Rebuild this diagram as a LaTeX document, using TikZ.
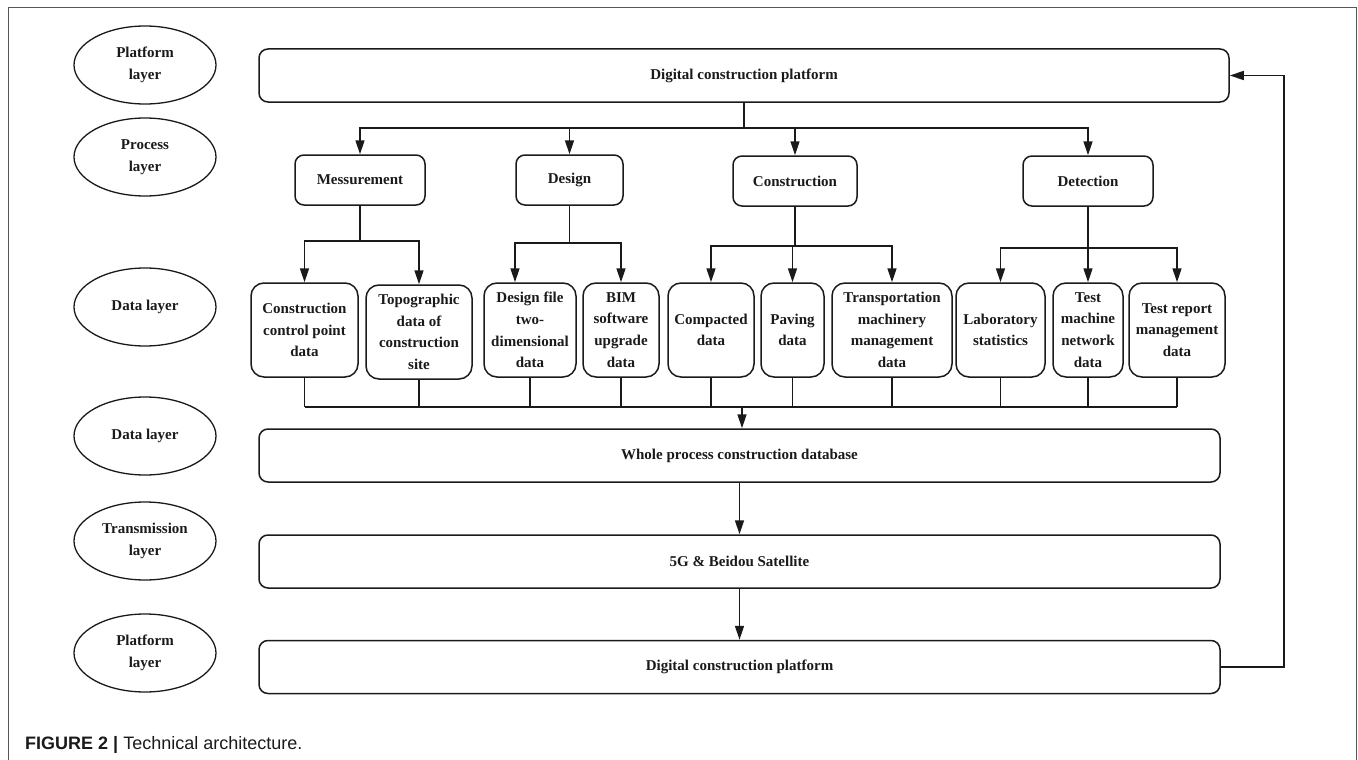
\documentclass[tikz,border=0pt]{standalone}
\usepackage{fontspec}
\setmainfont{Liberation Serif}
\newfontfamily\capfont{Liberation Sans}
\usetikzlibrary{arrows.meta,shapes.geometric}
\definecolor{ink}{HTML}{1A1A1A}
\definecolor{rim}{HTML}{555555}
\newcommand\lbl{\fontsize{15}{21.7}\selectfont\bfseries}

\begin{document}
\begin{tikzpicture}[
  x=1pt,y=-1pt,
  layer/.style={ellipse,draw=ink,line width=1.3pt,minimum width=142pt,minimum height=78pt,
                inner sep=0pt,align=center,font=\lbl,text=ink},
  bar/.style={draw=ink,line width=1.5pt,rounded corners=9pt,minimum width=961pt,
              minimum height=53pt,font=\lbl,text=ink},
  proc/.style={draw=ink,line width=1.5pt,rounded corners=9pt,minimum height=50pt,
               font=\lbl,text=ink},
  leaf/.style={draw=ink,line width=1.5pt,rounded corners=13pt,minimum height=94pt,
               align=center,inner sep=1pt,font=\lbl,text=ink},
  wire/.style={line width=1.5pt,draw=ink},
  arr/.style={-{Triangle[length=14pt,width=9pt]},line width=1.5pt,draw=ink}
]
\useasboundingbox (0,0) rectangle (1358,760);
\draw[rim,line width=1pt] (8,760) -- (8,8) -- (1356,8) -- (1356,760);

% layer labels
\node[layer] (l1) at (145,65) {Platform\\layer};
\node[layer] (l2) at (145,157) {Process\\layer};
\node[layer] (l3) at (145,307) {Data layer};
\node[layer] (l4) at (145,436) {Data layer};
\node[layer] (l5) at (145,541) {Transmission\\layer};
\node[layer] (l6) at (145,653) {Platform\\layer};

% wide bars
\node[bar,minimum width=970pt] (top) at (744,75.5) {Digital construction platform};
\node[bar] (db) at (739.5,455.5) {Whole process construction database};
\node[bar] (sat) at (739.5,561.5) {5G \& Beidou Satellite};
\node[bar] (plat) at (739.5,667) {Digital construction platform};

% process steps
\node[proc,minimum width=130pt] (mes) at (360,180) {Messurement};
\node[proc,minimum width=107pt] (des) at (569.5,180) {Design};
\node[proc,minimum width=124pt] (con) at (795,181) {Construction};
\node[proc,minimum width=130pt] (det) at (1088,181) {Detection};

% data items
\node[leaf,minimum width=107pt] (ccp) at (304.5,330) {Construction\\control point\\data};
\node[leaf,minimum width=106pt] (topo) at (419,332) {Topographic\\data of\\construction\\site};
\node[leaf,minimum width=92pt] (dfile) at (530,330) {Design file\\two-\\dimensional\\data};
\node[leaf,minimum width=76pt] (bim) at (621,330) {BIM\\software\\upgrade\\data};
\node[leaf,minimum width=86pt] (comp) at (711,330) {Compacted\\data};
\node[leaf,minimum width=63pt] (pave) at (792.5,330) {Paving\\data};
\node[leaf,minimum width=120pt] (trans) at (892,330) {Transportation\\machinery\\management\\data};
\node[leaf,minimum width=89pt] (lab) at (1000.5,330) {Laboratory\\statistics};
\node[leaf,minimum width=70pt] (tmn) at (1088,330) {Test\\machine\\network\\data};
\node[leaf,minimum width=96pt] (trep) at (1177,330) {Test report\\management\\data};

% platform to processes
\coordinate (split) at (744,128);
\draw[wire] (top.south) -- (split);
\foreach \p in {mes,des,con,det}
  \draw[arr] (split) -| (\p.north);

% processes to data
\coordinate (mesb) at (360,241);
\coordinate (desb) at (569.5,243);
\coordinate (conb) at (795,246);
\coordinate (detb) at (1088,248);
\draw[wire] (mes.south) -- (mesb);
\draw[wire] (des.south) -- (desb);
\draw[wire] (con.south) -- (conb);
\draw[wire] (det.south) -- (detb);
\draw[arr] (mesb) -| (ccp.north);
\draw[arr] (mesb) -| (topo.north);
\draw[arr] (desb) -| ([xshift=-15pt]dfile.north);
\draw[arr] (desb) -| (bim.north);
\foreach \d in {comp,pave,trans}
  \draw[arr] (conb) -| (\d.north);
\foreach \d in {lab,tmn,trep}
  \draw[arr] (detb) -| (\d.north);

% data to database
\coordinate (bus) at (742,407);
\foreach \d in {ccp,topo,dfile,bim,comp,pave,trans,lab,tmn,trep}
  \draw[wire] (\d.south) -- (\d.south |- bus);
\draw[wire] (ccp.south |- bus) -- (trep.south |- bus);
\draw[arr] (bus) -- (bus |- db.north);

% down the stack and back up
\draw[arr] (db.south) -- (sat.north);
\draw[arr] (sat.south) -- (plat.north);
\draw[arr] (plat.east) -- ++(63,0) |- (top.east);

% caption
\node[anchor=base west,inner sep=0pt,font=\capfont\fontsize{18}{22}\selectfont,text=ink]
  (cap) at (25,749) {\textbf{FIGURE 2 |} Technical architecture.};
\end{tikzpicture}
\end{document}
